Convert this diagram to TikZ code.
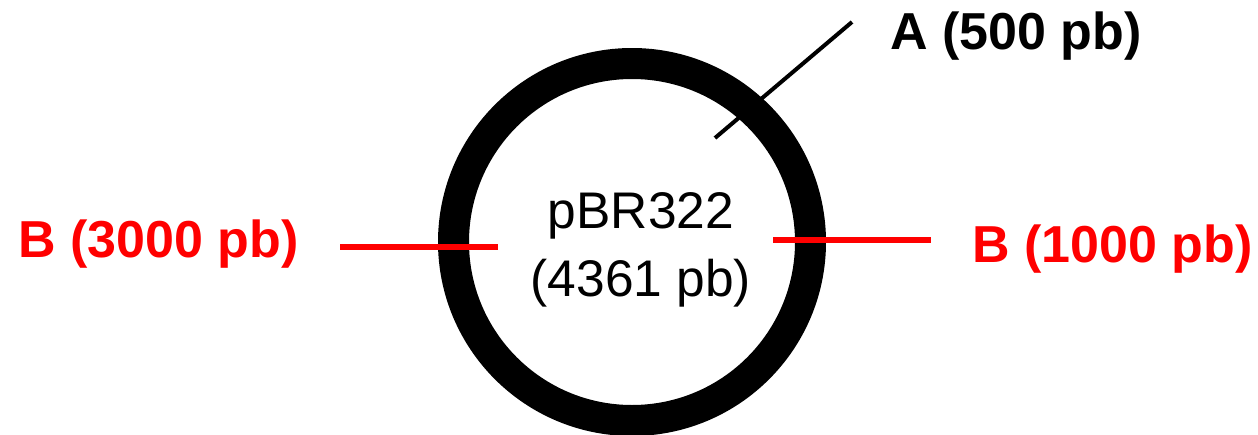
\documentclass[tikz,border=0pt]{standalone}
\usepackage{fontspec}
\setmainfont{Liberation Sans}

\tikzset{
  plasmid/.style={draw=black, line width=31pt},
  cutA/.style={draw=black, line width=4pt},
  cutB/.style={draw=red, line width=6pt},
  lbl/.style={inner sep=0pt, anchor=base west, font=\fontsize{52}{62}\selectfont\bfseries},
}

\begin{document}
\begin{tikzpicture}[x=1pt, y=-1pt]
  \useasboundingbox (0,0) rectangle (1258,434);
  % the plasmid ring
  \draw[plasmid] (632,242) circle (178.5pt);
  \node[inner sep=0pt, align=center, font=\fontsize{51.5}{68}\selectfont] (name) at (641,249.5) {pBR322\\(4361 pb)};
  % labels
  \node[lbl] (A) at (890,49) {A (500 pb)};
  \node[lbl, text=red] (Bleft) at (18,257) {B (3000 pb)};
  \node[lbl, text=red] (Bright) at (972,262) {B (1000 pb)};
  % cut sites
  \coordinate (a1) at (715,138);
  \coordinate (a2) at (852,22);
  \coordinate (bl1) at (340,246.5);
  \coordinate (bl2) at (498,246.5);
  \coordinate (br1) at (773,240.3);
  \coordinate (br2) at (931,240.3);
  \draw[cutA] (a1) -- (a2);
  \draw[cutB] (bl1) -- (bl2);
  \draw[cutB] (br1) -- (br2);
\end{tikzpicture}
\end{document}
